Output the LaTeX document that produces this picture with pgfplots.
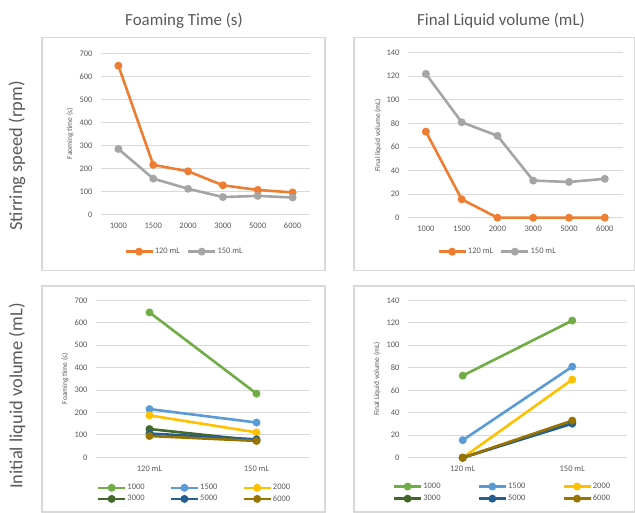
\documentclass[border=0pt]{standalone}
\usepackage{fontspec}
\setmainfont{Carlito}
\usepackage{pgfplots}
\pgfplotsset{compat=1.18}
\definecolor{cOrange}{HTML}{ED7D31}
\definecolor{cGray}{HTML}{A5A5A5}
\definecolor{cGreen}{HTML}{70AD47}
\definecolor{cBlue}{HTML}{5B9BD5}
\definecolor{cYellow}{HTML}{FFC000}
\definecolor{cDGreen}{HTML}{43682B}
\definecolor{cDBlue}{HTML}{255E91}
\definecolor{cDGold}{HTML}{997300}
\definecolor{txt}{HTML}{595959}
\definecolor{gridc}{HTML}{D9D9D9}
\pgfplotsset{
  panel/.style={
    scale only axis, clip=false,
    axis line style={draw=none},
    major tick length=0pt,
    ymajorgrids, grid style={gridc, line width=0.8bp},
    tick label style={font=\fontsize{8.5}{10}\selectfont, text=txt},
    /pgf/number format/assume math mode=true,
    yticklabel style={xshift=-5bp},
    xticklabel style={yshift=-5bp},
    ylabel style={font=\fontsize{7.5}{8}\selectfont, text=txt, anchor=center},
    every axis plot/.append style={line width=2.6bp, mark=*, mark size=2.6bp, mark options={solid}},
    legend style={draw=none, fill=none, font=\fontsize{8.5}{10}\selectfont, text=txt,
      nodes={inner sep=1bp, anchor=west}},
    legend image code/.code={
      \draw[##1, mark repeat=2, mark phase=2] plot coordinates {(0bp,0bp) (13.5bp,0bp) (27bp,0bp)};
    },
  },
}
\pgfplotstableread{
x a b
0 646 284
1 215 155
2 187 111
3 126 75
4 106 80
5 95 73
}\foamtab
\pgfplotstableread{
x a b
0 73 122
1 15.6 81
2 0 69.5
3 0 31.5
4 0 30.3
5 0 33
}\voltab
\pgfplotstableread{
x s1000 s1500 s2000 s3000 s5000 s6000
0 646 215 187 126 106 95
1 284 155 111 75 80 73
}\foamtabB
\pgfplotstableread{
x s1000 s1500 s2000 s3000 s5000 s6000
0 73 15.6 0 0 0 0
1 122 81 69.5 31.5 30.3 33
}\voltabB
\begin{document}
\begin{tikzpicture}
\useasboundingbox (0,0) rectangle (635bp,513bp);
% panel frames
\draw[gridc, line width=1.2bp] (42bp,242.7bp) rectangle (325bp,475.7bp);
\draw[gridc, line width=1.2bp] (354bp,242.7bp) rectangle (634.4bp,475.7bp);
\draw[gridc, line width=1.2bp] (42bp,1bp) rectangle (325bp,227bp);
\draw[gridc, line width=1.2bp] (354bp,1bp) rectangle (634.4bp,227bp);
% titles
\node[text=txt, font=\fontsize{17}{20}\selectfont] at (184bp,492bp) {Foaming Time (s)};
\node[text=txt, font=\fontsize{17}{20}\selectfont] at (501bp,492bp) {Final Liquid volume (mL)};
\node[text=txt, font=\fontsize{18.5}{20}\selectfont, rotate=90] at (17bp,357bp) {Stirring speed (rpm)};
\node[text=txt, font=\fontsize{18.5}{20}\selectfont, rotate=90] at (17bp,117bp) {Initial liquid volume (mL)};

% top-left
\begin{axis}[panel, at={(101bp,298.7bp)}, anchor=south west, width=209bp, height=161bp,
  xmin=-0.5, xmax=5.5, ymin=0, ymax=700, ytick={0,100,...,700},
  xtick={0,...,5}, xticklabels={1000,1500,2000,3000,5000,6000},
  ylabel={Faoming time (s)}, ylabel style={at={(axis description cs:-0.148,0.5)}},
  legend columns=2,
  legend style={at={(axis description cs:0.397,-0.232)}, anchor=center,
    /tikz/every even column/.append style={column sep=6bp}}]
\addplot[cOrange] table[x=x, y=a] {\foamtab};
\addplot[cGray] table[x=x, y=b] {\foamtab};
\legend{120 mL, 150 mL}
\end{axis}

% top-right
\begin{axis}[panel, at={(408bp,295.3bp)}, anchor=south west, width=214.7bp, height=165bp,
  xmin=-0.5, xmax=5.5, ymin=0, ymax=140, ytick={0,20,...,140},
  xtick={0,...,5}, xticklabels={1000,1500,2000,3000,5000,6000},
  ylabel={Final liquid volume (mL)}, ylabel style={at={(axis description cs:-0.14,0.5)}},
  legend columns=2,
  legend style={at={(axis description cs:0.415,-0.206)}, anchor=center,
    /tikz/every even column/.append style={column sep=6bp}}]
\addplot[cOrange] table[x=x, y=a] {\voltab};
\addplot[cGray] table[x=x, y=b] {\voltab};
\legend{120 mL, 150 mL}
\end{axis}

% bottom-left
\begin{axis}[panel, at={(96bp,55.7bp)}, anchor=south west, width=214bp, height=157bp,
  xmin=-0.5, xmax=1.5, ymin=0, ymax=700, ytick={0,100,...,700},
  xtick={0,1}, xticklabels={120 mL,150 mL},
  ylabel={Foaming time (s)}, ylabel style={at={(axis description cs:-0.145,0.5)}},
  legend columns=3,
  legend style={at={(axis description cs:0.458,-0.23)}, anchor=center,
    /tikz/every even column/.append style={column sep=24bp}, /tikz/row sep=2bp}]
\addplot[cGreen] table[x=x, y=s1000] {\foamtabB};
\addplot[cBlue] table[x=x, y=s1500] {\foamtabB};
\addplot[cYellow] table[x=x, y=s2000] {\foamtabB};
\addplot[cDGreen] table[x=x, y=s3000] {\foamtabB};
\addplot[cDBlue] table[x=x, y=s5000] {\foamtabB};
\addplot[cDGold] table[x=x, y=s6000] {\foamtabB};
\legend{1000,1500,2000,3000,5000,6000}
\end{axis}

% bottom-right
\begin{axis}[panel, at={(408bp,55.3bp)}, anchor=south west, width=219bp, height=157.4bp,
  xmin=-0.5, xmax=1.5, ymin=0, ymax=140, ytick={0,20,...,140},
  xtick={0,1}, xticklabels={120 mL,150 mL},
  ylabel={Final Liquid volume (mL)}, ylabel style={at={(axis description cs:-0.142,0.5)}},
  legend columns=3,
  legend style={at={(axis description cs:0.429,-0.222)}, anchor=center,
    /tikz/every even column/.append style={column sep=36bp}, /tikz/row sep=3bp}]
\addplot[cGreen] table[x=x, y=s1000] {\voltabB};
\addplot[cBlue] table[x=x, y=s1500] {\voltabB};
\addplot[cYellow] table[x=x, y=s2000] {\voltabB};
\addplot[cDGreen] table[x=x, y=s3000] {\voltabB};
\addplot[cDBlue] table[x=x, y=s5000] {\voltabB};
\addplot[cDGold] table[x=x, y=s6000] {\voltabB};
\legend{1000,1500,2000,3000,5000,6000}
\end{axis}
\end{tikzpicture}
\end{document}
